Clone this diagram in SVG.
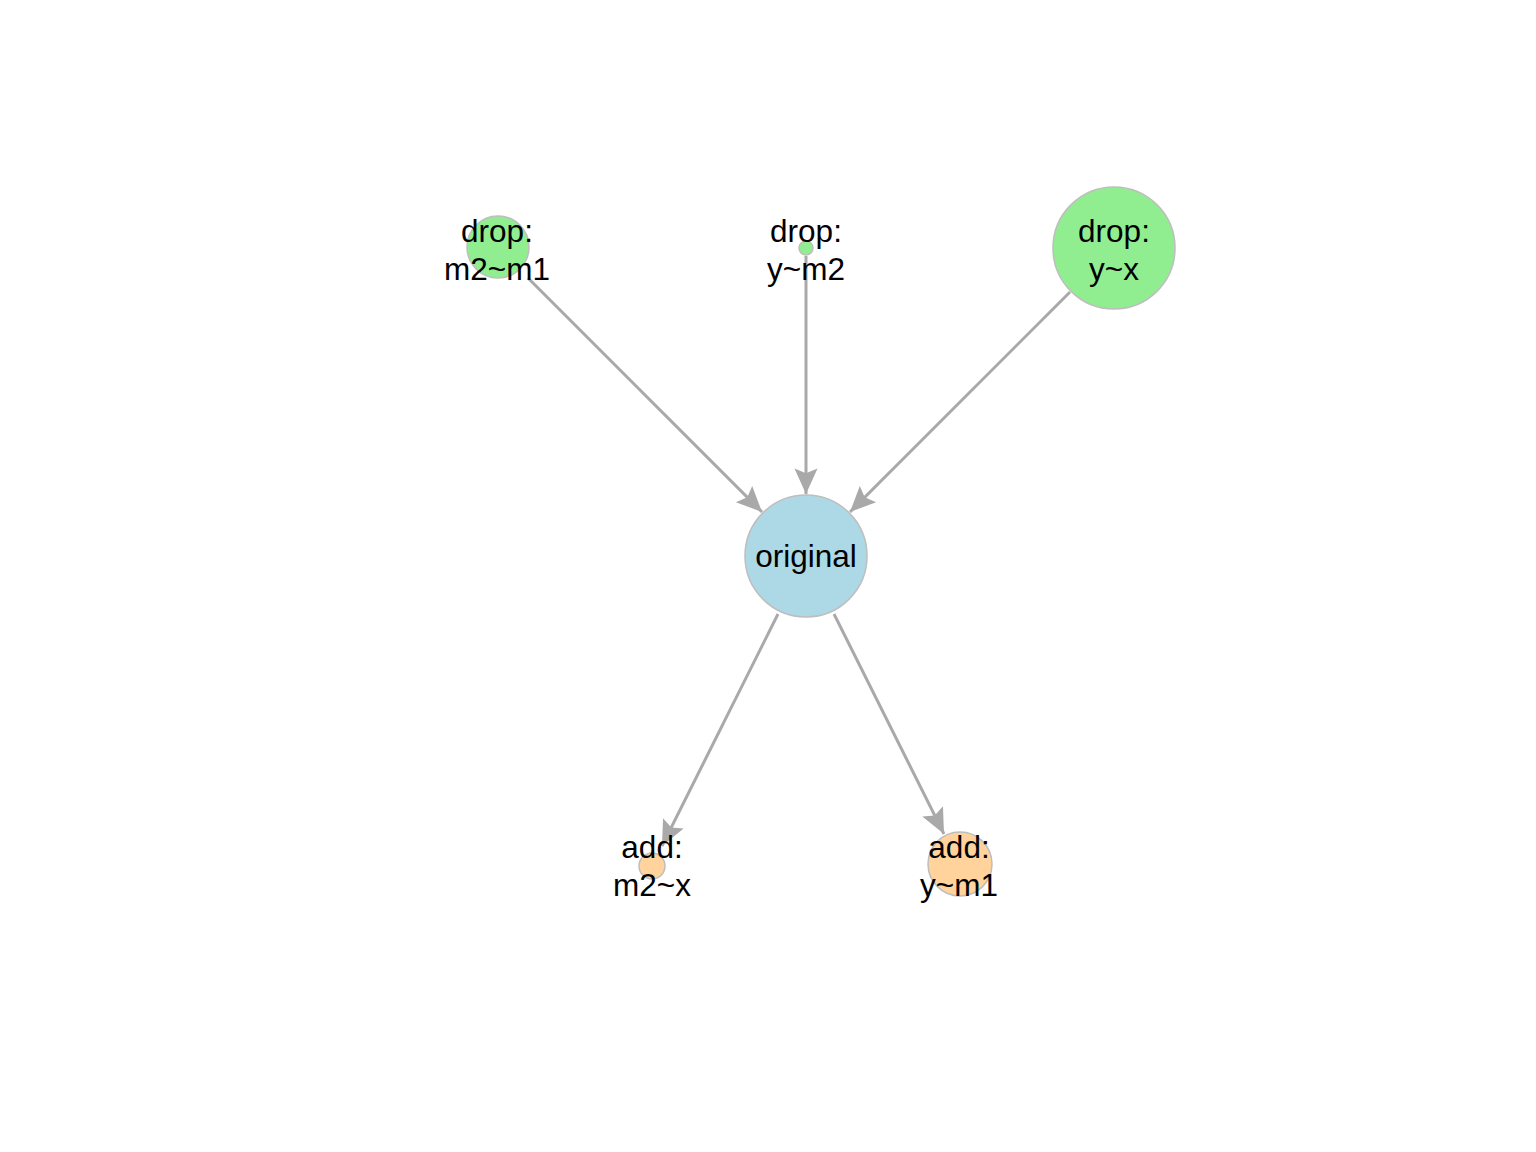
<svg xmlns="http://www.w3.org/2000/svg" width="1536" height="1152" viewBox="0 0 1536 1152">
<defs>
<style>
.edge{stroke:#A9A9A9;stroke-width:3;fill:none;marker-end:url(#arr)}
.node circle{stroke:#BEBEBE;stroke-width:1.5}
.drop circle{fill:#90EE90}
.orig circle{fill:#ADD8E6}
.add circle{fill:#FFD39B}
text{font-family:"Liberation Sans",Arial,sans-serif;font-size:31.5px;fill:#000;text-anchor:middle}
</style>
<marker id="arr" markerUnits="userSpaceOnUse" markerWidth="30" markerHeight="30" viewBox="-24 -12 26 24" refX="0" refY="0" orient="auto">
<path d="M0,0 L-22,-10 L-18,0 L-22,10 Z" fill="#A9A9A9"/>
</marker>
</defs>
<rect width="1536" height="1152" fill="#fff"/>
<g id="edges">
<line class="edge" x1="528" y1="278" x2="762" y2="512"/>
<line class="edge" x1="806" y1="256" x2="806" y2="494"/>
<line class="edge" x1="1070" y1="292" x2="850" y2="512"/>
<line class="edge" x1="778" y1="614" x2="662" y2="846"/>
<line class="edge" x1="834" y1="614" x2="944" y2="834"/>
</g>
<g id="n-drop-m2m1" class="node drop"><circle cx="498" cy="247" r="31"/><text x="497" y="242">drop:</text><text x="497" y="280">m2~m1</text></g>
<g id="n-drop-ym2" class="node drop"><circle cx="806" cy="248" r="7"/><text x="806" y="242">drop:</text><text x="806" y="280">y~m2</text></g>
<g id="n-drop-yx" class="node drop"><circle cx="1114" cy="248" r="61"/><text x="1114" y="242">drop:</text><text x="1114" y="280">y~x</text></g>
<g id="n-original" class="node orig"><circle cx="806" cy="556" r="61"/><text x="806" y="567">original</text></g>
<g id="n-add-m2x" class="node add"><circle cx="652" cy="866" r="13"/><text x="652" y="858">add:</text><text x="652" y="896">m2~x</text></g>
<g id="n-add-ym1" class="node add"><circle cx="960" cy="864" r="32"/><text x="959" y="858">add:</text><text x="959" y="896">y~m1</text></g>
</svg>
